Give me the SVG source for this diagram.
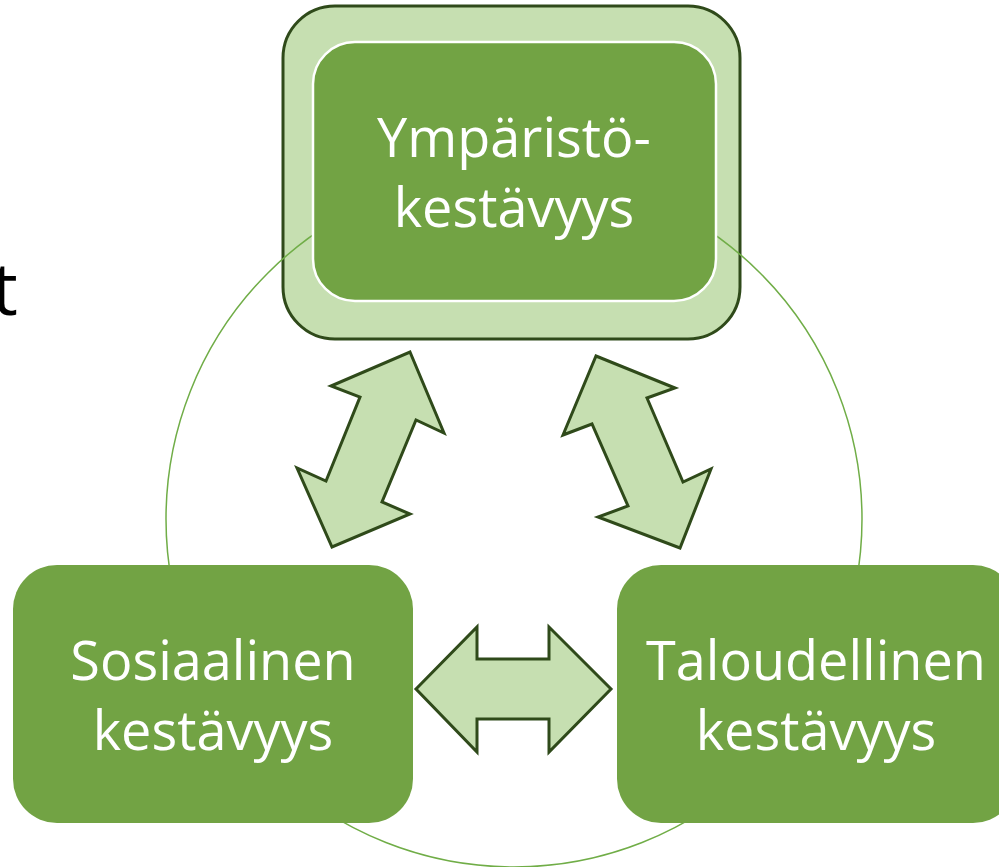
<svg xmlns="http://www.w3.org/2000/svg" width="999" height="867" viewBox="0 0 999 867">
<style>
.box{fill:#72a344;}
.lbl{font-family:"Open Sans","Noto Sans",sans-serif;font-size:54px;fill:#ffffff;text-anchor:middle;}
.arr{fill:#c6dfb1;stroke:#2f4a1a;stroke-width:3;stroke-linejoin:miter;}
</style>
<rect width="999" height="867" fill="#ffffff"/>
<text x="18" y="315" font-family="'Open Sans','Noto Sans',sans-serif" font-size="74" fill="#000000" text-anchor="end">t</text>
<g id="node-env-frame">
<rect x="283" y="6" width="457" height="333" rx="52" ry="52" fill="#c6dfb1" stroke="#2f4a1a" stroke-width="3"/>
</g>
<g id="cycle">
<circle cx="514" cy="519" r="348" fill="none" stroke="#70ad47" stroke-width="1.5"/>
</g>
<g id="node-env">
<rect x="313" y="42" width="403" height="259" rx="42" ry="42" class="box" stroke="#ffffff" stroke-width="2.5"/>
<text class="lbl" x="514" y="157">Ympäristö-</text>
<text class="lbl" x="514" y="227">kestävyys</text>
</g>
<g id="node-social">
<rect x="13" y="565" width="400" height="258" rx="44" ry="44" class="box"/>
<text class="lbl" x="213" y="680">Sosiaalinen</text>
<text class="lbl" x="213" y="750">kestävyys</text>
</g>
<g id="node-economic">
<rect x="617" y="565" width="400" height="258" rx="44" ry="44" class="box"/>
<text class="lbl" x="816" y="680">Taloudellinen</text>
<text class="lbl" x="816" y="750">kestävyys</text>
</g>
<g id="connectors">
<polygon class="arr" points="410,352 444,433 416,420 382,502 410,514 332,547 297,468 326,481 360,397 331,386"/>
<polygon class="arr" points="596,356 675,388 647,398 683,482 711,469 680,548 598,517 628,506 592,424 563,435"/>
<polygon class="arr" points="416,689 477,627 477,659 549,659 549,627 611,689 549,752 549,719 477,719 477,752"/>
</g>
</svg>
